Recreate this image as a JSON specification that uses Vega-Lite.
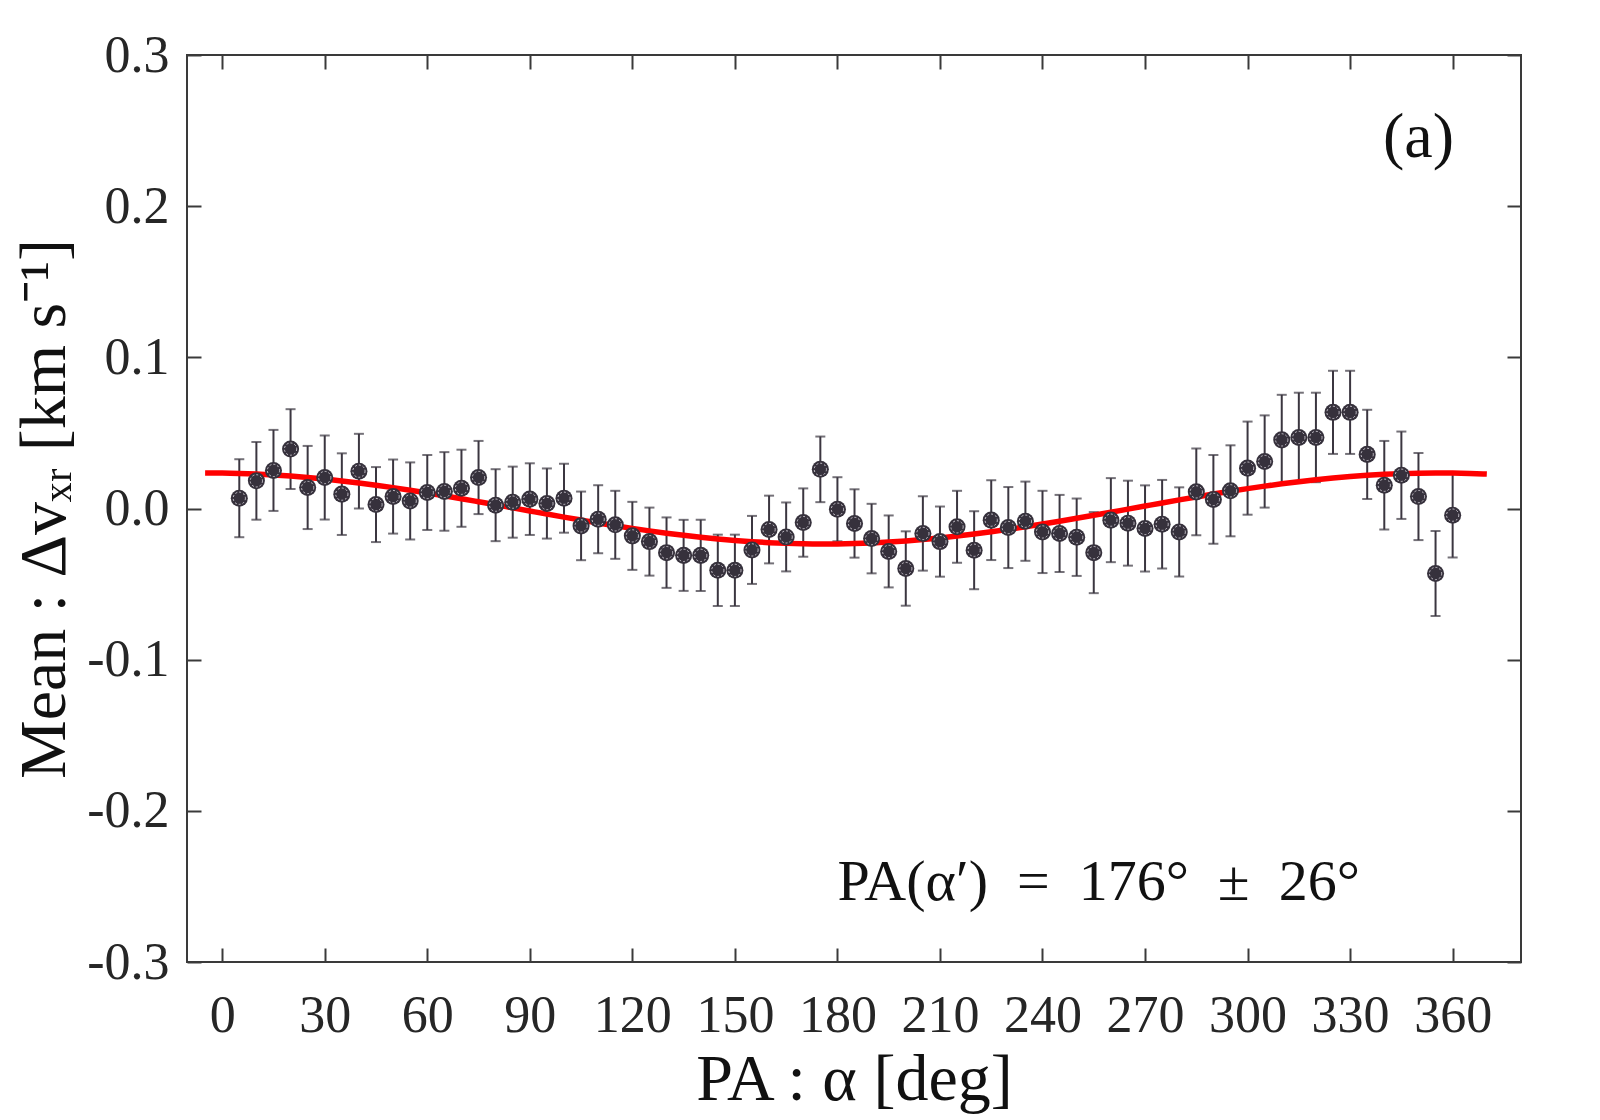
{
  "$schema": "https://vega.github.io/schema/vega-lite/v6.json",
  "description": "Mean velocity offset vs position angle, with sinusoidal fit",
  "width": 1334,
  "height": 907,
  "autosize": "none",
  "padding": {"left": 187, "top": 55, "right": 79, "bottom": 158},
  "background": "white",
  "config": {
    "view": {"stroke": "#3a3a3a", "strokeWidth": 2},
    "font": "Liberation Serif",
    "axis": {
      "grid": false,
      "domain": false,
      "tickSize": -14,
      "tickWidth": 2,
      "tickColor": "#3a3a3a",
      "labelFont": "Liberation Serif",
      "labelFontSize": 52,
      "labelColor": "#262626",
      "titleFont": "Liberation Serif",
      "titleFontSize": 66,
      "titleFontWeight": "normal",
      "titleColor": "#111111"
    }
  },
  "datasets": {
    "pts": [
      {"alpha": 5, "mean": 0.0068, "err": 0.0258},
      {"alpha": 10, "mean": 0.0183, "err": 0.0257},
      {"alpha": 15, "mean": 0.0252, "err": 0.0268},
      {"alpha": 20, "mean": 0.0393, "err": 0.0264},
      {"alpha": 25, "mean": 0.0139, "err": 0.0275},
      {"alpha": 30, "mean": 0.0205, "err": 0.0278},
      {"alpha": 35, "mean": 0.0095, "err": 0.027},
      {"alpha": 40, "mean": 0.0247, "err": 0.0247},
      {"alpha": 45, "mean": 0.0026, "err": 0.0248},
      {"alpha": 50, "mean": 0.0079, "err": 0.0245},
      {"alpha": 55, "mean": 0.005, "err": 0.0255},
      {"alpha": 60, "mean": 0.0106, "err": 0.0248},
      {"alpha": 65, "mean": 0.0113, "err": 0.026},
      {"alpha": 70, "mean": 0.0134, "err": 0.0255},
      {"alpha": 75, "mean": 0.0205, "err": 0.0242},
      {"alpha": 80, "mean": 0.0022, "err": 0.0238},
      {"alpha": 85, "mean": 0.0042, "err": 0.0235},
      {"alpha": 90, "mean": 0.0062, "err": 0.0237},
      {"alpha": 95, "mean": 0.0033, "err": 0.0232},
      {"alpha": 100, "mean": 0.0068, "err": 0.0228},
      {"alpha": 105, "mean": -0.0115, "err": 0.0227},
      {"alpha": 110, "mean": -0.0071, "err": 0.0225},
      {"alpha": 115, "mean": -0.0108, "err": 0.0225},
      {"alpha": 120, "mean": -0.0181, "err": 0.0225},
      {"alpha": 125, "mean": -0.0219, "err": 0.0225},
      {"alpha": 130, "mean": -0.0292, "err": 0.0233},
      {"alpha": 135, "mean": -0.031, "err": 0.0235},
      {"alpha": 140, "mean": -0.031, "err": 0.0235},
      {"alpha": 145, "mean": -0.0409, "err": 0.0236},
      {"alpha": 150, "mean": -0.0409, "err": 0.0236},
      {"alpha": 155, "mean": -0.0274, "err": 0.0225},
      {"alpha": 160, "mean": -0.0139, "err": 0.0224},
      {"alpha": 165, "mean": -0.0188, "err": 0.0228},
      {"alpha": 170, "mean": -0.0093, "err": 0.0226},
      {"alpha": 175, "mean": 0.0259, "err": 0.0217},
      {"alpha": 180, "mean": -0.0005, "err": 0.0212},
      {"alpha": 185, "mean": -0.0099, "err": 0.0226},
      {"alpha": 190, "mean": -0.0199, "err": 0.023},
      {"alpha": 195, "mean": -0.0284, "err": 0.0238},
      {"alpha": 200, "mean": -0.0397, "err": 0.0246},
      {"alpha": 205, "mean": -0.0165, "err": 0.0246},
      {"alpha": 210, "mean": -0.0219, "err": 0.0232},
      {"alpha": 215, "mean": -0.0121, "err": 0.0238},
      {"alpha": 220, "mean": -0.0276, "err": 0.0258},
      {"alpha": 225, "mean": -0.0077, "err": 0.0264},
      {"alpha": 230, "mean": -0.0126, "err": 0.0268},
      {"alpha": 235, "mean": -0.0084, "err": 0.0262},
      {"alpha": 240, "mean": -0.0155, "err": 0.0272},
      {"alpha": 245, "mean": -0.0165, "err": 0.0255},
      {"alpha": 250, "mean": -0.019, "err": 0.0256},
      {"alpha": 255, "mean": -0.0292, "err": 0.0268},
      {"alpha": 260, "mean": -0.0077, "err": 0.0278},
      {"alpha": 265, "mean": -0.0097, "err": 0.0281},
      {"alpha": 270, "mean": -0.0132, "err": 0.0285},
      {"alpha": 275, "mean": -0.0104, "err": 0.0293},
      {"alpha": 280, "mean": -0.0155, "err": 0.0295},
      {"alpha": 285, "mean": 0.011, "err": 0.0287},
      {"alpha": 290, "mean": 0.006, "err": 0.0294},
      {"alpha": 295, "mean": 0.0117, "err": 0.0301},
      {"alpha": 300, "mean": 0.0267, "err": 0.0308},
      {"alpha": 305, "mean": 0.0311, "err": 0.0305},
      {"alpha": 310, "mean": 0.0454, "err": 0.0298},
      {"alpha": 315, "mean": 0.047, "err": 0.0296},
      {"alpha": 320, "mean": 0.047, "err": 0.0296},
      {"alpha": 325, "mean": 0.0636, "err": 0.0275},
      {"alpha": 330, "mean": 0.0636, "err": 0.0275},
      {"alpha": 335, "mean": 0.0358, "err": 0.0295},
      {"alpha": 340, "mean": 0.0154, "err": 0.0293},
      {"alpha": 345, "mean": 0.022, "err": 0.0289},
      {"alpha": 350, "mean": 0.0079, "err": 0.0288},
      {"alpha": 355, "mean": -0.043, "err": 0.0281},
      {"alpha": 360, "mean": -0.0044, "err": 0.028}
    ],
    "fit": [
      {"alpha": -5, "v": 0.0235},
      {"alpha": 0, "v": 0.02344},
      {"alpha": 5, "v": 0.02321},
      {"alpha": 10, "v": 0.0228},
      {"alpha": 15, "v": 0.02222},
      {"alpha": 20, "v": 0.02147},
      {"alpha": 25, "v": 0.02055},
      {"alpha": 30, "v": 0.01948},
      {"alpha": 35, "v": 0.01826},
      {"alpha": 40, "v": 0.0169},
      {"alpha": 45, "v": 0.01542},
      {"alpha": 50, "v": 0.01381},
      {"alpha": 55, "v": 0.0121},
      {"alpha": 60, "v": 0.0103},
      {"alpha": 65, "v": 0.00842},
      {"alpha": 70, "v": 0.00648},
      {"alpha": 75, "v": 0.00448},
      {"alpha": 80, "v": 0.00246},
      {"alpha": 85, "v": 0.00041},
      {"alpha": 90, "v": -0.00164},
      {"alpha": 95, "v": -0.00368},
      {"alpha": 100, "v": -0.00569},
      {"alpha": 105, "v": -0.00765},
      {"alpha": 110, "v": -0.00956},
      {"alpha": 115, "v": -0.01139},
      {"alpha": 120, "v": -0.01314},
      {"alpha": 125, "v": -0.01479},
      {"alpha": 130, "v": -0.01632},
      {"alpha": 135, "v": -0.01774},
      {"alpha": 140, "v": -0.01901},
      {"alpha": 145, "v": -0.02014},
      {"alpha": 150, "v": -0.02112},
      {"alpha": 155, "v": -0.02194},
      {"alpha": 160, "v": -0.02259},
      {"alpha": 165, "v": -0.02307},
      {"alpha": 170, "v": -0.02337},
      {"alpha": 175, "v": -0.0235},
      {"alpha": 180, "v": -0.02344},
      {"alpha": 185, "v": -0.02321},
      {"alpha": 190, "v": -0.0228},
      {"alpha": 195, "v": -0.02222},
      {"alpha": 200, "v": -0.02147},
      {"alpha": 205, "v": -0.02055},
      {"alpha": 210, "v": -0.01948},
      {"alpha": 215, "v": -0.01826},
      {"alpha": 220, "v": -0.0169},
      {"alpha": 225, "v": -0.01542},
      {"alpha": 230, "v": -0.01381},
      {"alpha": 235, "v": -0.0121},
      {"alpha": 240, "v": -0.0103},
      {"alpha": 245, "v": -0.00842},
      {"alpha": 250, "v": -0.00648},
      {"alpha": 255, "v": -0.00448},
      {"alpha": 260, "v": -0.00246},
      {"alpha": 265, "v": -0.00041},
      {"alpha": 270, "v": 0.00164},
      {"alpha": 275, "v": 0.00368},
      {"alpha": 280, "v": 0.00569},
      {"alpha": 285, "v": 0.00765},
      {"alpha": 290, "v": 0.00956},
      {"alpha": 295, "v": 0.01139},
      {"alpha": 300, "v": 0.01314},
      {"alpha": 305, "v": 0.01479},
      {"alpha": 310, "v": 0.01632},
      {"alpha": 315, "v": 0.01774},
      {"alpha": 320, "v": 0.01901},
      {"alpha": 325, "v": 0.02014},
      {"alpha": 330, "v": 0.02112},
      {"alpha": 335, "v": 0.02194},
      {"alpha": 340, "v": 0.02259},
      {"alpha": 345, "v": 0.02307},
      {"alpha": 350, "v": 0.02337},
      {"alpha": 355, "v": 0.0235},
      {"alpha": 360, "v": 0.02344},
      {"alpha": 365, "v": 0.02321},
      {"alpha": 370, "v": 0.0228}
    ]
  },
  "layer": [
    {
      "data": {"name": "pts"},
      "mark": {
        "type": "errorbar",
        "color": "#3b3640",
        "rule": {"strokeWidth": 2},
        "ticks": {"size": 10, "thickness": 2, "color": "#3b3640"}
      },
      "encoding": {
        "x": {
          "field": "alpha",
          "type": "quantitative",
          "scale": {"domain": [-10.3, 380], "nice": false, "zero": false},
          "axis": {
            "orient": "bottom",
            "values": [0, 30, 60, 90, 120, 150, 180, 210, 240, 270, 300, 330, 360],
            "labelPadding": 42,
            "labelFlush": false,
            "titlePadding": 6,
            "title": "PA : α  [deg]"
          }
        },
        "y": {
          "field": "mean",
          "type": "quantitative",
          "scale": {"domain": [-0.3, 0.3], "nice": false, "zero": false},
          "axis": {
            "orient": "left",
            "values": [-0.3, -0.2, -0.1, 0, 0.1, 0.2, 0.3],
            "labelExpr": "(datum.value < -0.00001 ? '-' : '') + format(abs(datum.value), '.1f')",
            "labelPadding": 32,
            "labelFlush": false,
            "titlePadding": 8,
            "title": "Mean : Δvₓᵣ  [km s⁻¹]"
          }
        },
        "yError": {"field": "err"}
      }
    },
    {
      "data": {"name": "fit"},
      "mark": {"type": "line", "color": "#ff0000", "strokeWidth": 5.5, "interpolate": "monotone"},
      "encoding": {
        "x": {
          "field": "alpha",
          "type": "quantitative",
          "axis": {
            "orient": "top",
            "values": [0, 30, 60, 90, 120, 150, 180, 210, 240, 270, 300, 330, 360],
            "labels": false,
            "title": null
          }
        },
        "y": {
          "field": "v",
          "type": "quantitative",
          "axis": {
            "orient": "right",
            "values": [-0.3, -0.2, -0.1, 0, 0.1, 0.2, 0.3],
            "labels": false,
            "title": null
          }
        }
      }
    },
    {
      "data": {"name": "pts"},
      "mark": {"type": "point", "filled": true, "size": 290, "color": "#36313c", "opacity": 1},
      "encoding": {
        "x": {"field": "alpha", "type": "quantitative", "axis": null},
        "y": {"field": "mean", "type": "quantitative", "axis": null}
      }
    },
    {
      "data": {"name": "pts"},
      "mark": {
        "type": "point",
        "filled": false,
        "size": 150,
        "stroke": "#c8c4cc",
        "strokeWidth": 1,
        "strokeDash": [2, 2],
        "opacity": 1
      },
      "encoding": {
        "x": {"field": "alpha", "type": "quantitative", "axis": null},
        "y": {"field": "mean", "type": "quantitative", "axis": null}
      }
    },
    {
      "data": {"values": [{"label": "PA(α′)\u2002=\u2002176°\u2002±\u200226°"}]},
      "mark": {
        "type": "text",
        "font": "Liberation Serif",
        "fontSize": 58,
        "align": "left",
        "baseline": "alphabetic",
        "color": "#111111"
      },
      "encoding": {
        "x": {"datum": 180, "type": "quantitative", "axis": null},
        "y": {"datum": -0.259, "type": "quantitative", "axis": null},
        "text": {"field": "label"}
      }
    },
    {
      "data": {"values": [{"label": "(a)"}]},
      "mark": {
        "type": "text",
        "font": "Liberation Serif",
        "fontSize": 64,
        "align": "center",
        "baseline": "alphabetic",
        "color": "#111111"
      },
      "encoding": {
        "x": {"datum": 350, "type": "quantitative", "axis": null},
        "y": {"datum": 0.2327, "type": "quantitative", "axis": null},
        "text": {"field": "label"}
      }
    }
  ],
  "resolve": {"axis": {"x": "independent", "y": "independent"}}
}
